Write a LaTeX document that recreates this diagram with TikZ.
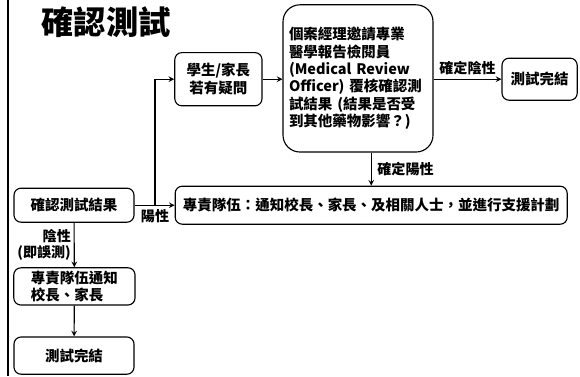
\documentclass[tikz,border=0pt]{standalone}
\usepackage{fontspec}
\setmainfont{Noto Sans CJK TC}
\usetikzlibrary{arrows,shapes,positioning}
\tikzstyle{step box} = [rectangle, rounded corners=5pt, draw=black, thick, align=center, inner sep=2pt, font=\bfseries\fontsize{10.3}{12.5}\selectfont]
\tikzstyle{arrow} = [thick,->,>=stealth]
\tikzstyle{tag} = [font=\bfseries\fontsize{10}{11.5}\selectfont, inner sep=1pt]

\begin{document}
\begin{tikzpicture}
\useasboundingbox (0,0) rectangle (14.5,-9.4);
\draw[line width=1.2pt] (0.2,0) -- (0.2,-9.4);
% Title
\node (title) [font=\bfseries\fontsize{23}{26}\selectfont] at (2.65,-0.55) {確認測試};

% Upper branch
\node (ask) [step box, minimum width=2.18cm, minimum height=1.33cm] at (5.46,-1.98) {學生/家長\\若有疑問};
\node (mro) [step box, rounded corners=12pt, minimum width=3.75cm, minimum height=3.68cm, text width=3.45cm, align=left, font=\bfseries\fontsize{10.3}{12.4}\selectfont] at (8.95,-1.96) {個案經理邀請專業\\醫學報告檢閱員\\(Medical Review\\Officer) 覆核確認測\\試結果 (結果是否受\\到其他藥物影響？)};
\node (done1) [step box, minimum width=1.88cm, minimum height=1.05cm] at (13.49,-1.98) {測試完結};
\node (team) [step box, minimum width=9.8cm, minimum height=0.95cm] at (9.28,-5.13) {專責隊伍：通知校長、家長、及相關人士，並進行支援計劃};

% Lower branch
\node (result) [step box, minimum width=3.0cm, minimum height=0.85cm] at (1.85,-5.13) {確認測試結果};
\node (notify) [step box, minimum width=3.03cm, minimum height=0.93cm, align=left] at (1.86,-7.16) {專責隊伍通知\\校長、家長};
\node (done2) [step box, minimum width=3.0cm, minimum height=0.93cm] at (1.85,-8.89) {測試完結};

\coordinate (split) at (3.875,-5.13);
\node (pos) [tag, below=2pt] at (split) {陽性};

\draw[thick] (result) -- (split);
\draw[arrow] (split) -- (team);
\draw[arrow] (split) |- (ask);
\draw[arrow] (ask) -- (mro.west |- ask);
\draw[arrow] (mro.east |- done1) -- node[tag, above=2pt] {確定陰性} (done1);
\draw[arrow] (mro.south -| team.north) -- node[tag, right=3pt] {確定陽性} (team.north);
\draw[arrow] (result) -- node[tag, left=1pt, align=right] {陰性\\(即誤測)} (notify);
\draw[arrow] (notify) -- (done2);
\end{tikzpicture}
\end{document}
